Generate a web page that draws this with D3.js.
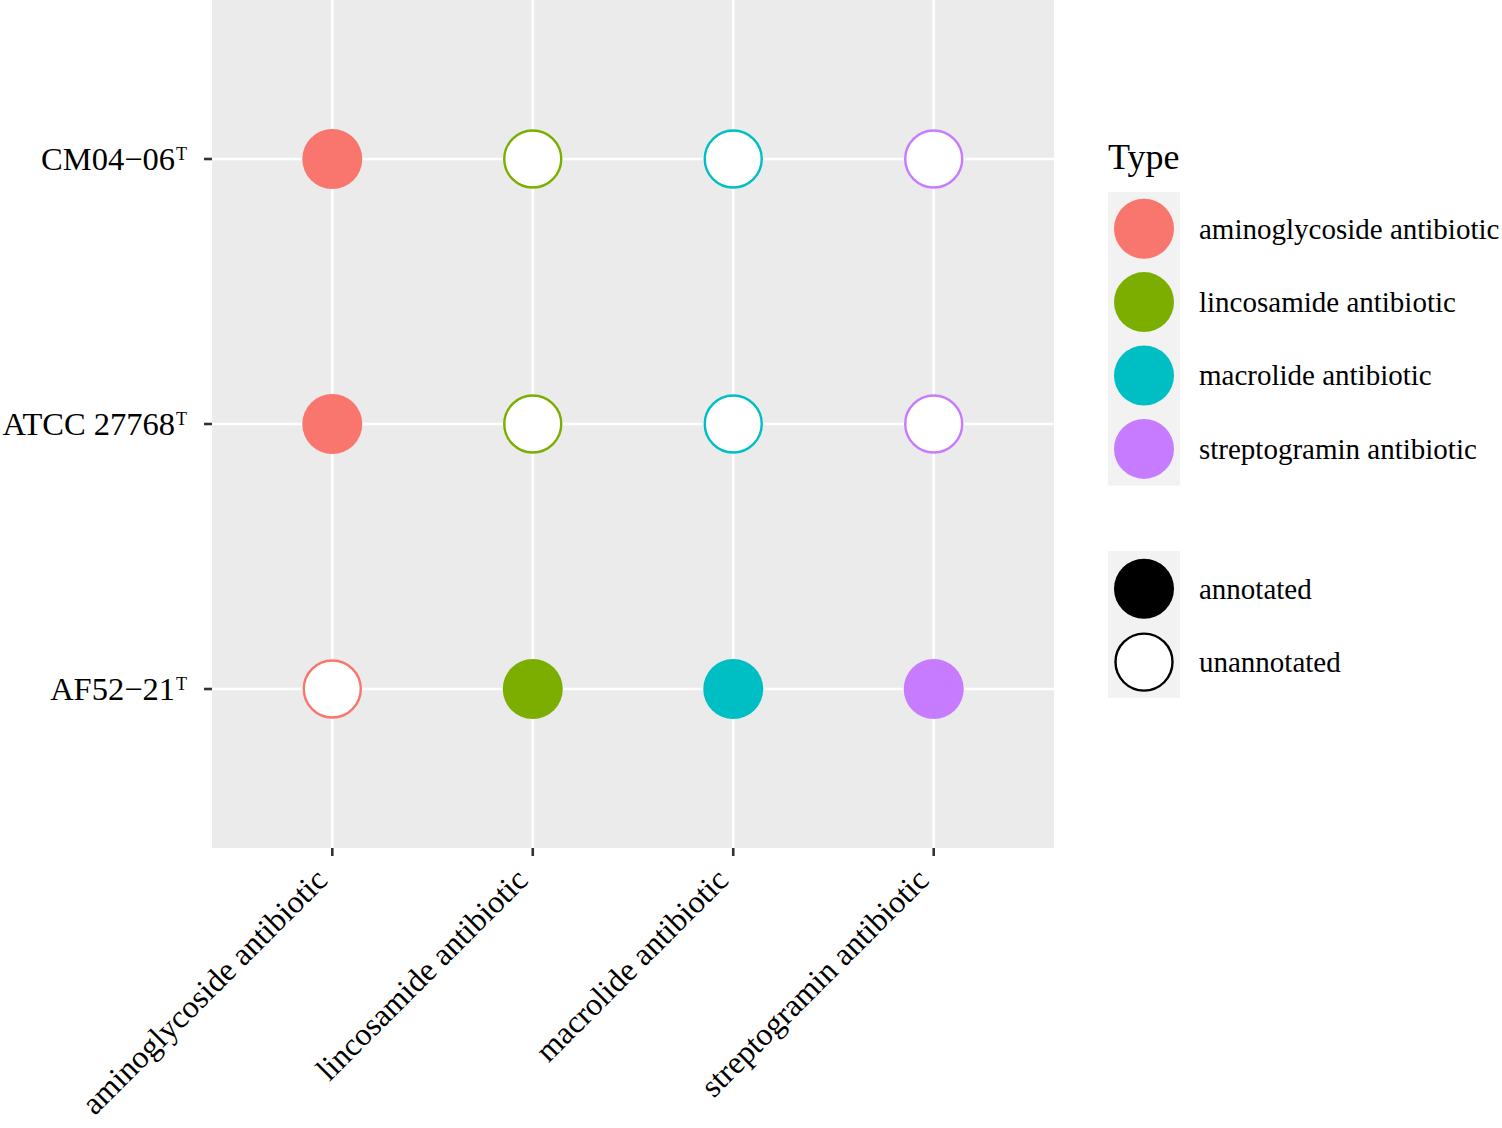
<!DOCTYPE html>
<html>
<head>
<meta charset="utf-8">
<script src="https://cdn.jsdelivr.net/npm/d3@7"></script>
<style>
  body { margin: 0; background: #fff; }
  text { font-family: "Liberation Serif", "Times New Roman", serif; fill: #000; }
</style>
</head>
<body>
<div id="chart"></div>
<script>
// antibiotic classes (x), strains (y, bottom to top)
var types = ["aminoglycoside antibiotic", "lincosamide antibiotic", "macrolide antibiotic", "streptogramin antibiotic"];
var strains = ["AF52\u221221", "ATCC 27768", "CM04\u221206"];
var typeColors = ["#F8766D", "#7CAE00", "#00BFC4", "#C77CFF"];
var statuses = ["annotated", "unannotated"];

// status per strain, in the order of types
var AF52 = ["unannotated", "annotated", "annotated", "annotated"];
var ATCC = ["annotated", "unannotated", "unannotated", "unannotated"];
var CM04 = ["annotated", "unannotated", "unannotated", "unannotated"];
var statusRows = [AF52, ATCC, CM04];

var data = [];
strains.forEach(function(s, i) {
    types.forEach(function(t, j) {
        data.push({strain: s, type: t, status: statusRows[i][j]});
    });
});

var W = 1502, H = 1128;
var panel = {left: 212, top: 0, width: 842, height: 848};

var svg = d3.select("#chart").append("svg").attr("width", W).attr("height", H);

var x = d3.scalePoint().domain(types).range([panel.left, panel.left + panel.width]).padding(0.6);
var y = d3.scalePoint().domain(strains).range([panel.top + panel.height, panel.top]).padding(0.6);
var color = d3.scaleOrdinal().domain(types).range(typeColors);

// panel background
svg.append("rect")
    .attr("x", panel.left).attr("y", panel.top)
    .attr("width", panel.width).attr("height", panel.height)
    .attr("fill", "#EBEBEB");

// grid lines
svg.selectAll(".vgrid").data(types).enter().append("line")
    .attr("x1", d => x(d)).attr("x2", d => x(d))
    .attr("y1", panel.top).attr("y2", panel.top + panel.height)
    .attr("stroke", "#fff").attr("stroke-width", 2.6);
svg.selectAll(".hgrid").data(strains).enter().append("line")
    .attr("y1", d => y(d)).attr("y2", d => y(d))
    .attr("x1", panel.left).attr("x2", panel.left + panel.width)
    .attr("stroke", "#fff").attr("stroke-width", 2.6);

// points
svg.selectAll(".pt").data(data).enter().append("circle")
    .attr("cx", d => x(d.type)).attr("cy", d => y(d.strain))
    .attr("r", d => d.status === "annotated" ? 30 : 28.5)
    .attr("fill", d => d.status === "annotated" ? color(d.type) : "#fff")
    .attr("stroke", d => d.status === "annotated" ? "none" : color(d.type))
    .attr("stroke-width", 2.4);

// y axis ticks + labels
svg.selectAll(".ytick").data(strains).enter().append("line")
    .attr("x1", panel.left - 8).attr("x2", panel.left)
    .attr("y1", d => y(d)).attr("y2", d => y(d))
    .attr("stroke", "#333").attr("stroke-width", 2.6);
var ylab = svg.selectAll(".ylab").data(strains).enter().append("text")
    .attr("x", 187).attr("y", d => y(d) + 11)
    .attr("text-anchor", "end").style("font-size", "32.5px");
ylab.append("tspan").text(d => d);
ylab.append("tspan").text("T").style("font-size", "18px").attr("dx", 1).attr("dy", -10);

// x axis ticks + labels
svg.selectAll(".xtick").data(types).enter().append("line")
    .attr("x1", d => x(d)).attr("x2", d => x(d))
    .attr("y1", panel.top + panel.height).attr("y2", panel.top + panel.height + 8)
    .attr("stroke", "#333").attr("stroke-width", 2.6);
svg.selectAll(".xlab").data(types).enter().append("text")
    .attr("transform", d => "translate(" + (x(d) - 19) + "," + (panel.top + panel.height + 18) + ") rotate(-45)")
    .attr("text-anchor", "end").attr("dy", "0.7em")
    .style("font-size", "32px")
    .text(d => d);

// legend: Type
var lx = 1108;
svg.append("text").attr("x", lx).attr("y", 169).style("font-size", "36px").text("Type");
var keyH = 73.4;
var lg1 = svg.append("g").attr("transform", "translate(" + lx + ",192)");
lg1.append("rect").attr("width", 72).attr("height", keyH * types.length).attr("fill", "#F2F2F2");
var k1 = lg1.selectAll(".k1").data(types).enter().append("g")
    .attr("transform", (d, i) => "translate(0," + (i * keyH) + ")");
k1.append("circle").attr("cx", 36).attr("cy", keyH / 2).attr("r", 30).attr("fill", d => color(d));
k1.append("text").attr("x", 91).attr("y", keyH / 2 + 10).style("font-size", "29px").text(d => d);

// legend: status
var lg2 = svg.append("g").attr("transform", "translate(" + lx + ",551)");
lg2.append("rect").attr("width", 72).attr("height", keyH * statuses.length).attr("fill", "#F2F2F2");
var k2 = lg2.selectAll(".k2").data(statuses).enter().append("g")
    .attr("transform", (d, i) => "translate(0," + (i * keyH) + ")");
k2.append("circle").attr("cx", 36).attr("cy", keyH / 2 + 1)
    .attr("r", d => d === "annotated" ? 30 : 28.5)
    .attr("fill", d => d === "annotated" ? "#000" : "#fff")
    .attr("stroke", d => d === "annotated" ? "none" : "#000")
    .attr("stroke-width", 2.4);
k2.append("text").attr("x", 91).attr("y", keyH / 2 + 11).style("font-size", "29px").text(d => d);
</script>
</body>
</html>
